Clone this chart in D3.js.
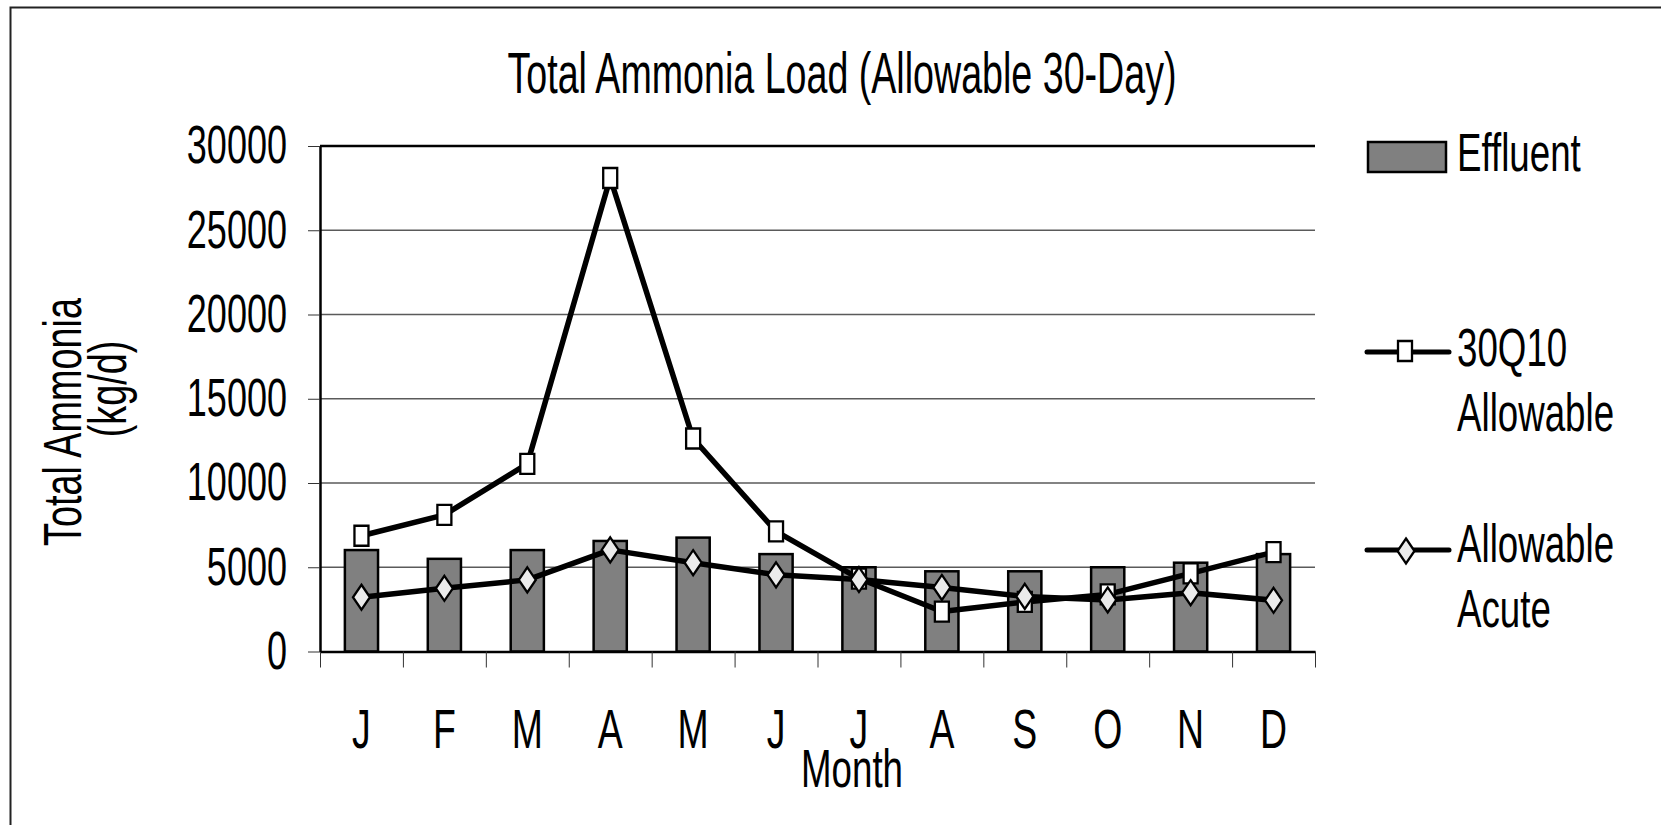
<!DOCTYPE html>
<meta charset="utf-8">
<style>

body { margin: 0; background: #fff; }

text {
    font-family: "Liberation Sans", Arial, sans-serif;
    fill: #000;
}

.grid line {
    stroke: #5a5a5a;
    stroke-width: 1.3;
}

.axis path {
    fill: none;
    stroke: #000;
    stroke-width: 2.5;
}

.axis line {
    stroke: #333;
    stroke-width: 1;
}

.bar {
    fill: #808080;
    stroke: #000;
    stroke-width: 2.5;
}

.series {
    fill: none;
    stroke: #000;
    stroke-width: 5.5;
    stroke-linejoin: round;
}

.square { fill: #fff; stroke: #000; stroke-width: 2.3; }
.diamond { fill: #ebebeb; stroke: #000; stroke-width: 2.3; }

</style>

<body>
    <script src="https://d3js.org/d3.v7.min.js"></script>
    <script>

        // data (kg/d)
        var months = ["J", "F", "M", "A", "M", "J", "J", "A", "S", "O", "N", "D"];
        var effluent = [6020, 5500, 6020, 6560, 6760, 5780, 5000, 4760, 4760, 5000, 5270, 5780];
        var allow30Q10 = [6870, 8110, 11130, 28100, 12640, 7130, 4330, 2370, 2940, 3390, 4640, 5900];
        var allowAcute = [3220, 3750, 4250, 6030, 5270, 4550, 4270, 3800, 3270, 3060, 3490, 3040];
        var yTicks = [0, 5000, 10000, 15000, 20000, 25000, 30000];
        var legendLabels = [["Effluent"], ["30Q10", "Allowable"], ["Allowable", "Acute"]];

        var W = 1661, H = 825;
        var plot = {left: 320, right: 1315, top: 146, bottom: 651.5};
        var sx = 0.68; // the lettering in the original is squeezed sideways

        var svg = d3.select("body")
            .append("svg")
                .attr("width", W)
                .attr("height", H);

        // frame round the chart (only top and left edges show)
        svg.append("path")
            .attr("d", "M10.5," + H + "V7.5H" + W)
            .attr("fill", "none")
            .attr("stroke", "#222")
            .attr("stroke-width", 2);

        // scales
        var x = d3.scaleBand()
            .domain(d3.range(months.length))
            .range([plot.left, plot.right])
            .paddingInner(0.6)
            .paddingOuter(0.3);
        var xEdge = d3.scaleLinear()
            .domain([0, months.length])
            .range([plot.left, plot.right]);
        var y = d3.scaleLinear()
            .domain([0, 30000])
            .range([plot.bottom, plot.top]);

        function cx(i) { return x(i) + x.bandwidth() / 2; }

        // gridlines
        svg.append("g")
            .attr("class", "grid")
            .selectAll("line")
            .data(yTicks.slice(1))
            .enter().append("line")
                .attr("x1", plot.left)
                .attr("x2", plot.right)
                .attr("y1", function(d) { return y(d); })
                .attr("y2", function(d) { return y(d); });

        // top edge of the plot
        svg.append("line")
            .attr("x1", plot.left).attr("x2", plot.right)
            .attr("y1", y(30000)).attr("y2", y(30000))
            .attr("stroke", "#000")
            .attr("stroke-width", 2.5);

        // Effluent bars
        svg.append("g")
            .selectAll("rect")
            .data(effluent)
            .enter().append("rect")
                .attr("class", "bar")
                .attr("x", function(d, i) { return x(i); })
                .attr("width", x.bandwidth())
                .attr("y", function(d) { return y(d); })
                .attr("height", function(d) { return y(0) - y(d); });

        var line = d3.line()
            .x(function(d, i) { return cx(i); })
            .y(function(d) { return y(d); });

        function squarePath(px, py) {
            return "M" + (px - 7) + "," + (py - 10) + "h14v20h-14z";
        }
        function diamondPath(px, py) {
            return "M" + px + "," + (py - 12.5) + "L" + (px + 8.5) + "," + py +
                   "L" + px + "," + (py + 12.5) + "L" + (px - 8.5) + "," + py + "Z";
        }

        // 30Q10 allowable
        svg.append("path")
            .attr("class", "series")
            .attr("d", line(allow30Q10));
        svg.append("g")
            .selectAll("path")
            .data(allow30Q10)
            .enter().append("path")
                .attr("class", "square")
                .attr("d", function(d, i) { return squarePath(cx(i), y(d)); });

        // allowable acute
        svg.append("path")
            .attr("class", "series")
            .attr("d", line(allowAcute));
        svg.append("g")
            .selectAll("path")
            .data(allowAcute)
            .enter().append("path")
                .attr("class", "diamond")
                .attr("d", function(d, i) { return diamondPath(cx(i), y(d)); });

        // X axis: tick marks on the category edges
        svg.append("g")
            .attr("class", "axis")
            .attr("transform", "translate(0," + plot.bottom + ")")
            .call(d3.axisBottom(xEdge)
                .tickValues(d3.range(months.length + 1))
                .tickSize(16)
                .tickSizeOuter(0)
                .tickFormat(""));

        // X axis: month letters under each bar
        var xLab = svg.append("g")
            .attr("transform", "translate(0," + plot.bottom + ")")
            .call(d3.axisBottom(x)
                .tickSize(0)
                .tickFormat(function(i) { return months[i]; }));
        xLab.select(".domain").remove();
        xLab.selectAll("text")
            .attr("y", 96.5)
            .attr("dy", 0)
            .attr("fill", "#000")
            .style("font-size", "55px")
            .attr("transform", "scale(" + sx + ",1)");

        // Y axis
        var yAx = svg.append("g")
            .attr("class", "axis")
            .attr("transform", "translate(" + plot.left + ",0)")
            .call(d3.axisLeft(y)
                .tickValues(yTicks)
                .tickSize(12)
                .tickSizeOuter(0)
                .tickFormat(d3.format("d")));
        yAx.selectAll("text")
            .attr("x", -33 / sx)
            .attr("dy", "0.32em")
            .attr("fill", "#000")
            .style("font-size", "53px")
            .attr("transform", "scale(" + sx + ",1)");

        // titles
        svg.append("text")
            .attr("transform", "translate(842,93) scale(0.66,1)")
            .attr("text-anchor", "middle")
            .style("font-size", "57px")
            .text("Total Ammonia Load (Allowable 30-Day)");

        svg.append("text")
            .attr("transform", "translate(852,787) scale(" + sx + ",1)")
            .attr("text-anchor", "middle")
            .style("font-size", "54px")
            .text("Month");

        svg.append("text")
            .attr("transform", "translate(81,422) rotate(-90) scale(0.7,1)")
            .attr("text-anchor", "middle")
            .style("font-size", "54px")
            .text("Total Ammonia");
        svg.append("text")
            .attr("transform", "translate(126,389) rotate(-90) scale(0.7,1)")
            .attr("text-anchor", "middle")
            .style("font-size", "54px")
            .text("(kg/d)");

        // legend
        var legendY = [157, 352, 550];
        var lx = 1367, tx = 1457;

        svg.append("rect")
            .attr("class", "bar")
            .attr("x", lx + 1).attr("y", legendY[0] - 15)
            .attr("width", 78).attr("height", 30);

        [1, 2].forEach(function(k) {
            svg.append("line")
                .attr("x1", lx).attr("x2", lx + 82)
                .attr("y1", legendY[k]).attr("y2", legendY[k])
                .attr("stroke", "#000")
                .attr("stroke-width", 5)
                .attr("stroke-linecap", "round");
        });
        svg.append("path")
            .attr("class", "square")
            .attr("d", squarePath(lx + 38, legendY[1] - 1));
        svg.append("path")
            .attr("class", "diamond")
            .attr("d", diamondPath(lx + 39, legendY[2] + 1));

        var firstBaseline = [171, 366, 562];
        legendLabels.forEach(function(lines, k) {
            lines.forEach(function(s, j) {
                svg.append("text")
                    .attr("transform", "translate(" + tx + "," + (firstBaseline[k] + j * 65) + ") scale(" + sx + ",1)")
                    .style("font-size", "54px")
                    .text(s);
            });
        });

    </script>
</body>
